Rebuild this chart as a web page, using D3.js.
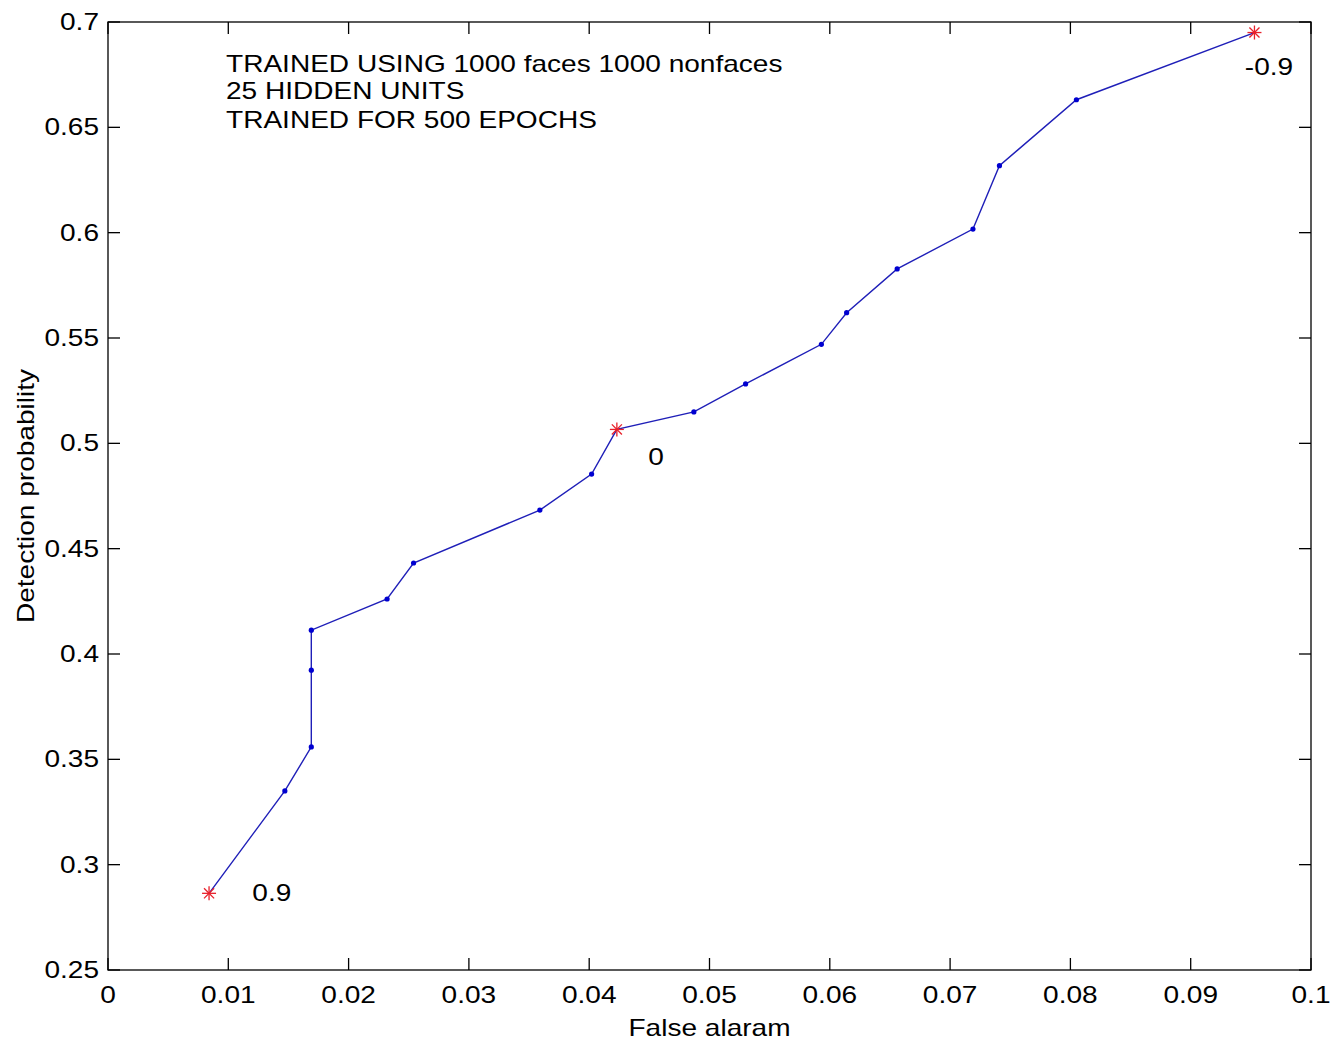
<!DOCTYPE html>
<html>
<head>
<meta charset="utf-8">
<script src="https://cdn.jsdelivr.net/npm/d3@7"></script>
<style>
  body { margin: 0; background: #fff; }
  svg text { font-family: "Liberation Sans", Arial, sans-serif; fill: #000; }
</style>
</head>
<body>
<svg id="chart" width="1334" height="1045"></svg>
<script>
// ROC points
var falseAlarm = [0.0084, 0.0147, 0.0169, 0.0169, 0.0169, 0.0232, 0.0254, 0.0359, 0.0402, 0.0423,
                  0.0487, 0.0530, 0.0593, 0.0614, 0.0656, 0.0719, 0.0741, 0.0805, 0.0953];
var detection  = [0.2864, 0.3350, 0.3559, 0.3923, 0.4113, 0.4261, 0.4432, 0.4683, 0.4854, 0.5066,
                  0.5149, 0.5282, 0.5470, 0.5620, 0.5828, 0.6017, 0.6318, 0.6631, 0.6950];

// thresholds marked with a red star
var starIdx    = [0, 9, 18];
var starLabels = ["0.9", "0", "-0.9"];
var labelDx    = [0.0036, 0.0026, -0.0008];
var labelDy    = [0.0, -0.0133, -0.0164];

var xTicks = [0, 0.01, 0.02, 0.03, 0.04, 0.05, 0.06, 0.07, 0.08, 0.09, 0.1];
var yTicks = [0.25, 0.3, 0.35, 0.4, 0.45, 0.5, 0.55, 0.6, 0.65, 0.7];
var notes  = ["TRAINED USING 1000 faces 1000 nonfaces", "25 HIDDEN UNITS", "TRAINED FOR 500 EPOCHS"];

var plotL = 108, plotR = 1311, plotT = 22, plotB = 970;
var sx = 1.22; // the original text is stretched horizontally

var svg = d3.select("#chart");
var x = d3.scaleLinear().domain([0, 0.1]).range([plotL, plotR]);
var y = d3.scaleLinear().domain([0.25, 0.7]).range([plotB, plotT]);

function fmt(d) { return String(+d.toFixed(2)); }

// frame
svg.append("rect")
  .attr("x", plotL).attr("y", plotT)
  .attr("width", plotR - plotL).attr("height", plotB - plotT)
  .attr("fill", "none").attr("stroke", "#000").attr("stroke-width", 1.3);

// ticks pointing inward on all four sides
var tk = 12;
var g = svg.append("g").attr("stroke", "#000").attr("stroke-width", 1.3);
xTicks.forEach(function(t) {
  g.append("line").attr("x1", x(t)).attr("x2", x(t)).attr("y1", plotB).attr("y2", plotB - tk);
  g.append("line").attr("x1", x(t)).attr("x2", x(t)).attr("y1", plotT).attr("y2", plotT + tk);
});
yTicks.forEach(function(t) {
  g.append("line").attr("x1", plotL).attr("x2", plotL + tk).attr("y1", y(t)).attr("y2", y(t));
  g.append("line").attr("x1", plotR).attr("x2", plotR - tk).attr("y1", y(t)).attr("y2", y(t));
});

function stretchedText(parent, px, py, txt, anchor, size) {
  return parent.append("text")
    .attr("transform", "translate(" + px + "," + py + ") scale(" + sx + ",1)")
    .attr("text-anchor", anchor || "start")
    .style("font-size", (size || 23) + "px")
    .text(txt);
}

// tick labels
xTicks.forEach(function(t) {
  stretchedText(svg, x(t), 1003, fmt(t), "middle");
});
yTicks.forEach(function(t) {
  stretchedText(svg, 99, y(t) + 8, fmt(t), "end");
});

// axis titles
stretchedText(svg, (plotL + plotR) / 2, 1036, "False alaram", "middle");
svg.append("text")
  .attr("transform", "translate(34," + ((plotT + plotB) / 2) + ") rotate(-90) scale(" + sx + ",1)")
  .attr("text-anchor", "middle")
  .style("font-size", "23px")
  .text("Detection probability");

// annotation
var noteY = [72, 99, 128];
notes.forEach(function(n, i) { stretchedText(svg, 226, noteY[i], n, "start"); });

// curve
var pts = falseAlarm.map(function(v, i) { return [v, detection[i]]; });
var line = d3.line().x(function(d) { return x(d[0]); }).y(function(d) { return y(d[1]); });
svg.append("path")
  .datum(pts)
  .attr("d", line)
  .attr("fill", "none")
  .attr("stroke", "#1f1fb8")
  .attr("stroke-width", 1.4);

// dot markers
svg.append("g").selectAll("circle")
  .data(pts.filter(function(d, i) { return starIdx.indexOf(i) < 0; }))
  .enter().append("circle")
  .attr("cx", function(d) { return x(d[0]); })
  .attr("cy", function(d) { return y(d[1]); })
  .attr("r", 2.6)
  .attr("fill", "#0000d0");

// red asterisks with their threshold labels
var sg = svg.append("g");
starIdx.forEach(function(idx, k) {
  var cx = x(falseAlarm[idx]), cy = y(detection[idx]);
  var r = 7, q = r * 0.72;
  var s = sg.append("g").attr("transform", "translate(" + cx + "," + cy + ")")
    .attr("stroke", "#e8202a").attr("stroke-width", 1.3);
  s.append("line").attr("x1", -r).attr("x2", r).attr("y1", 0).attr("y2", 0);
  s.append("line").attr("x1", 0).attr("x2", 0).attr("y1", -r).attr("y2", r);
  s.append("line").attr("x1", -q).attr("x2", q).attr("y1", -q).attr("y2", q);
  s.append("line").attr("x1", -q).attr("x2", q).attr("y1", q).attr("y2", -q);
  stretchedText(svg, x(falseAlarm[idx] + labelDx[k]), y(detection[idx] + labelDy[k]) + 8, starLabels[k], "start");
});
</script>
</body>
</html>
